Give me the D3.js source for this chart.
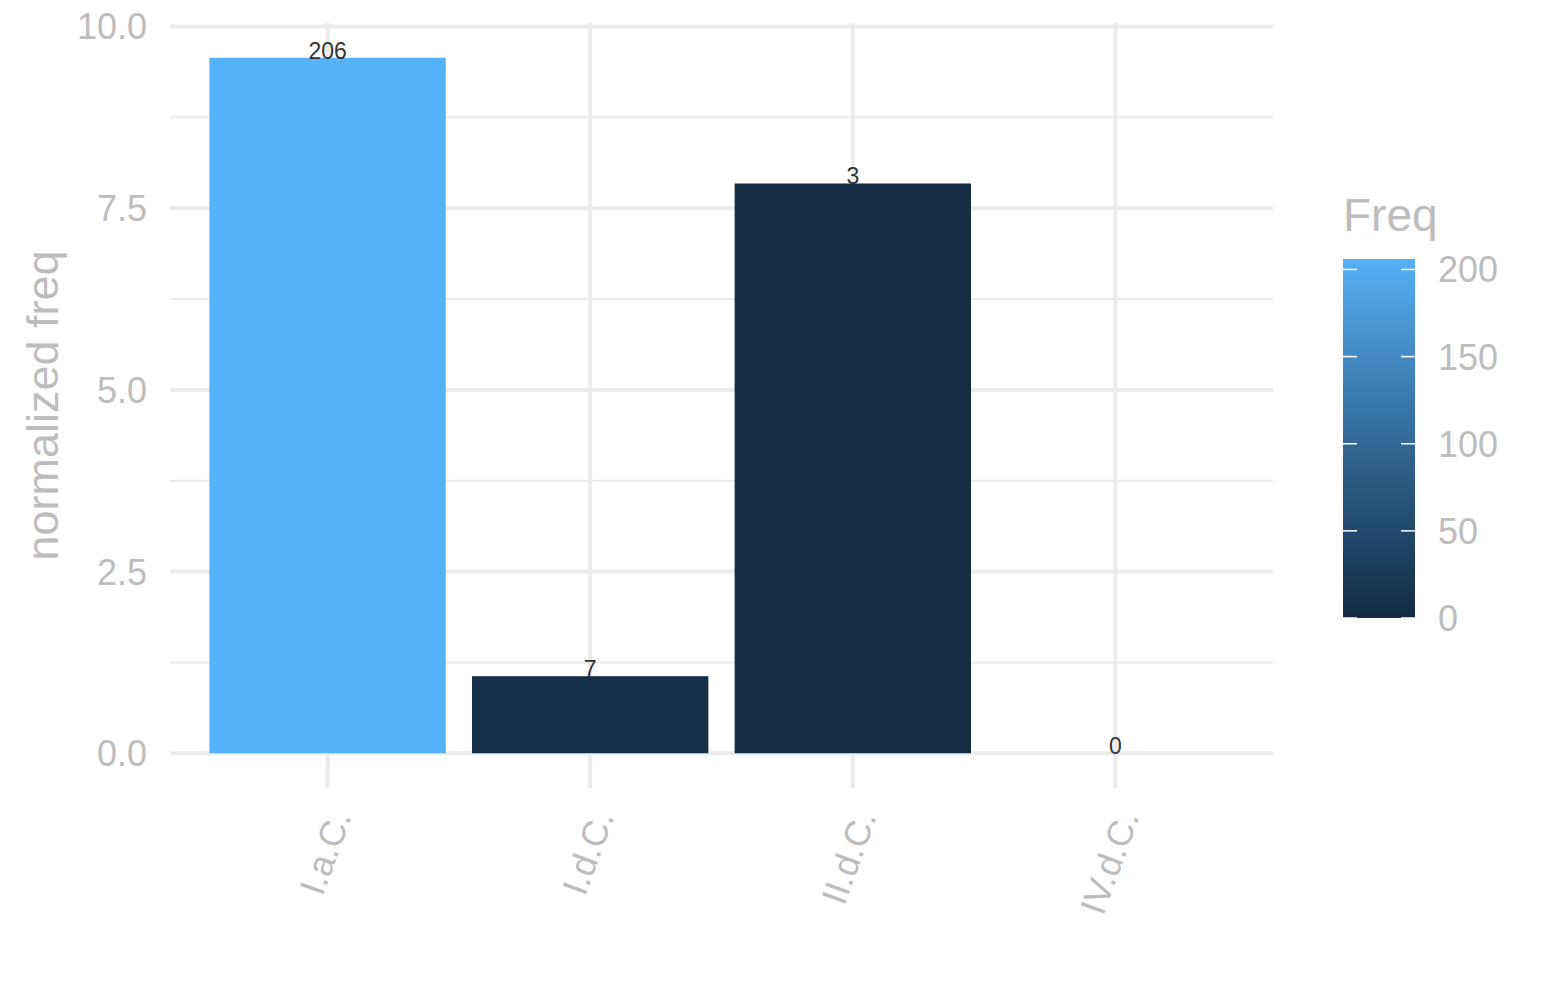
<!DOCTYPE html>
<meta charset="utf-8">
<style>
body { margin: 0; background: #fff; font-family: "Liberation Sans", Arial, sans-serif; }
.grid line { stroke: #ebebeb; }
.tick-label { fill: #bdbdbd; }
</style>
<svg width="1545" height="1000"></svg>
<script src="https://d3js.org/d3.v7.min.js"></script>
<script>

// categories, bar heights (normalized freq) and the raw counts shown above each bar
var categories = ["I.a.C.", "I.d.C.", "II.d.C.", "IV.d.C."];
var normFreq = [9.57, 1.06, 7.84, 0];
var freq = [206, 7, 3, 0];
var yTicks = [0, 2.5, 5, 7.5, 10];
var yMinor = [1.25, 3.75, 6.25, 8.75];
var legendTicks = [0, 50, 100, 150, 200];

var svg = d3.select("svg");

var panel = {left: 170, right: 1273, top: 23, bottom: 788};

// discrete x: positions 1..n with ggplot's 0.6 expansion each side
var x = d3.scaleLinear()
	.domain([0.4, categories.length + 0.6])
	.range([panel.left, panel.right]);
var barW = 0.9;

var yMax = d3.max(normFreq);
var y = d3.scaleLinear()
	.domain([-yMax * 0.05, yMax * 1.05])
	.range([panel.bottom, panel.top]);

var color = d3.scaleLinear()
	.domain([0, d3.max(freq)])
	.range(["#132B43", "#56B1F7"])
	.interpolate(d3.interpolateLab);

// grid
var grid = svg.append("g").attr("class", "grid");
grid.selectAll(".minor").data(yMinor).enter().append("line")
	.attr("x1", panel.left).attr("x2", panel.right)
	.attr("y1", y).attr("y2", y)
	.attr("stroke-width", 2);
grid.selectAll(".major-y").data(yTicks).enter().append("line")
	.attr("x1", panel.left).attr("x2", panel.right)
	.attr("y1", y).attr("y2", y)
	.attr("stroke-width", 4);
grid.selectAll(".major-x").data(categories).enter().append("line")
	.attr("x1", function(d, i) { return x(i + 1); })
	.attr("x2", function(d, i) { return x(i + 1); })
	.attr("y1", panel.top).attr("y2", panel.bottom)
	.attr("stroke-width", 4);

// bars
svg.append("g").selectAll("rect")
	.data(normFreq)
	.enter().append("rect")
	.attr("x", function(d, i) { return x(i + 1 - barW / 2); })
	.attr("width", x(1 + barW) - x(1))
	.attr("y", function(d) { return y(d); })
	.attr("height", function(d) { return y(0) - y(d); })
	.attr("fill", function(d, i) { return color(freq[i]); });

// count labels
svg.append("g").selectAll("text")
	.data(normFreq)
	.enter().append("text")
	.attr("x", function(d, i) { return x(i + 1); })
	.attr("y", function(d) { return y(d) + 1; })
	.attr("text-anchor", "middle")
	.attr("fill", "#333")
	.style("font-size", "23px")
	.text(function(d, i) { return freq[i]; });

// y tick labels
svg.append("g").selectAll("text")
	.data(yTicks)
	.enter().append("text")
	.attr("class", "tick-label")
	.attr("x", 147)
	.attr("y", y)
	.attr("dy", "0.36em")
	.attr("text-anchor", "end")
	.style("font-size", "36px")
	.text(d3.format(".1f"));

// x tick labels, rotated
svg.append("g").selectAll("text")
	.data(categories)
	.enter().append("text")
	.attr("class", "tick-label")
	.attr("transform", function(d, i) { return "translate(" + (x(i + 1) + 12) + ",812) rotate(-70)"; })
	.attr("text-anchor", "end")
	.attr("dy", "0.36em")
	.style("font-size", "36px")
	.text(function(d) { return d; });

// y axis title
svg.append("text")
	.attr("class", "tick-label")
	.attr("transform", "translate(58," + (panel.top + panel.bottom) / 2 + ") rotate(-90)")
	.attr("text-anchor", "middle")
	.style("font-size", "45px")
	.text("normalized freq");

// colour bar legend
var leg = {x: 1343, w: 72, top: 259, bottom: 618};
var ly = d3.scaleLinear().domain(color.domain()).range([leg.bottom, leg.top]);

var defs = svg.append("defs");
var grad = defs.append("linearGradient")
	.attr("id", "freqgrad")
	.attr("x1", 0).attr("x2", 0).attr("y1", 1).attr("y2", 0);
grad.selectAll("stop")
	.data(d3.range(0, 1.0001, 0.1))
	.enter().append("stop")
	.attr("offset", function(d) { return d; })
	.attr("stop-color", function(d) { return color(d * d3.max(freq)); });

svg.append("rect")
	.attr("x", leg.x).attr("y", leg.top)
	.attr("width", leg.w).attr("height", leg.bottom - leg.top)
	.attr("fill", "url(#freqgrad)");

var lt = svg.append("g").selectAll("g")
	.data(legendTicks)
	.enter().append("g");
lt.append("line")
	.attr("x1", leg.x).attr("x2", leg.x + 14)
	.attr("y1", ly).attr("y2", ly)
	.attr("stroke", "#fff").attr("stroke-width", 1.5);
lt.append("line")
	.attr("x1", leg.x + leg.w - 14).attr("x2", leg.x + leg.w)
	.attr("y1", ly).attr("y2", ly)
	.attr("stroke", "#fff").attr("stroke-width", 1.5);
lt.append("text")
	.attr("class", "tick-label")
	.attr("x", 1438)
	.attr("y", ly)
	.attr("dy", "0.36em")
	.style("font-size", "36px")
	.text(function(d) { return d; });

svg.append("text")
	.attr("class", "tick-label")
	.attr("x", leg.x)
	.attr("y", 231)
	.style("font-size", "46px")
	.text("Freq");

</script>
